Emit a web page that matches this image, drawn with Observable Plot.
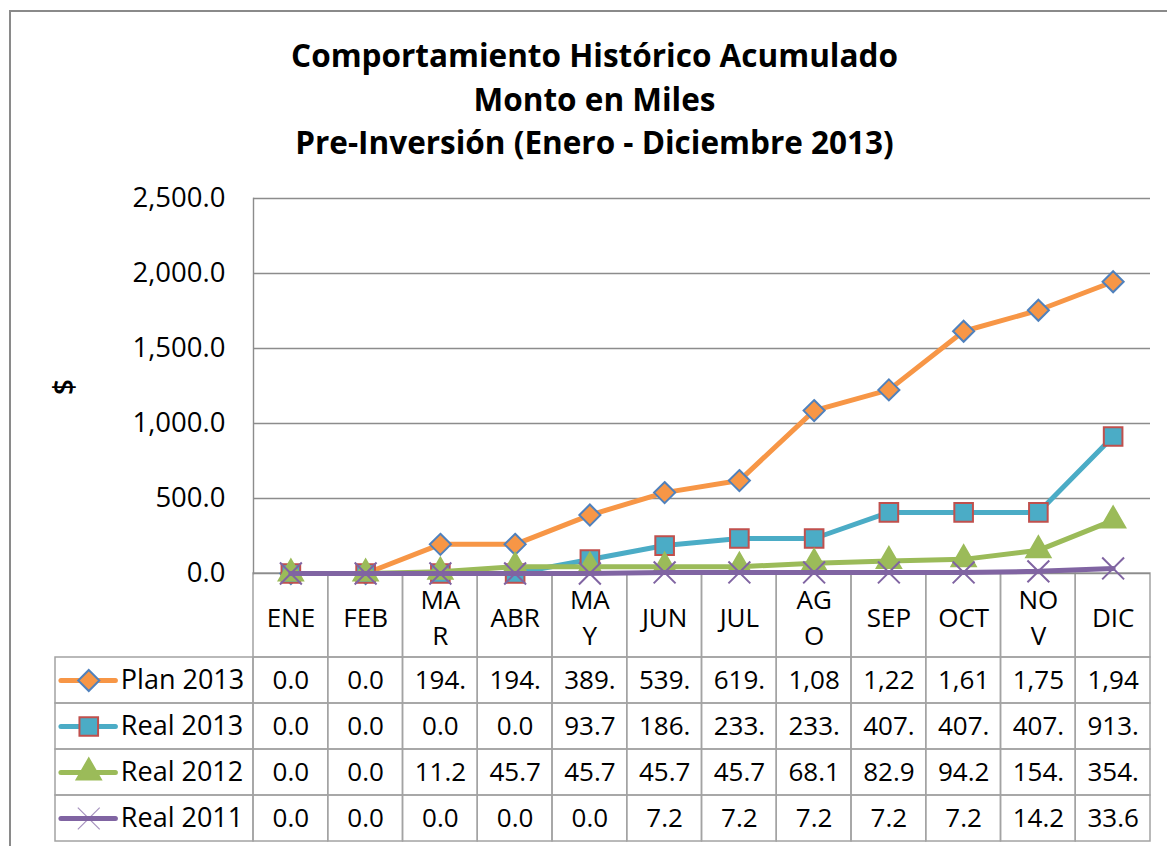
<!DOCTYPE html>
<html>
<head>
<meta charset="utf-8">
<script src="https://cdn.jsdelivr.net/npm/d3@7"></script>
<script src="https://cdn.jsdelivr.net/npm/@observablehq/plot@0.6"></script>
<style>
  html, body { margin: 0; padding: 0; background: #fff; overflow: hidden; }
  #root { position: relative; width: 1167px; height: 846px; overflow: hidden; font-family: "Open Sans", sans-serif; }
  #frame { position: absolute; left: 9px; top: 10px; width: 1400px; height: 1000px; border-left: 2px solid #8a8a8a; border-top: 2px solid #8a8a8a; }
  #title { position: absolute; left: 0; top: 33px; width: 1189px; text-align: center; font-weight: 700; font-size: 31.5px; line-height: 43.5px; color: #000; }
  .layer { position: absolute; }
</style>
</head>
<body>
<div id="root">
  <div id="frame"></div>
  <div id="title">Comportamiento Histórico Acumulado<br>Monto en Miles<br>Pre-Inversión (Enero - Diciembre 2013)</div>
  <div id="cats" class="layer" style="left:0;top:573px"></div>
  <div id="legend" class="layer" style="left:55px;top:657px"></div>
  <div id="table" class="layer" style="left:0;top:657px"></div>
  <div id="chart" class="layer" style="left:0;top:0"></div>
</div>
<script>
// ---- data ----
const months = ["ENE","FEB","MAR","ABR","MAY","JUN","JUL","AGO","SEP","OCT","NOV","DIC"];
const monthLabels = ["ENE","FEB","MA\nR","ABR","MA\nY","JUN","JUL","AG\nO","SEP","OCT","NO\nV","DIC"];
const seriesNames = ["Plan 2013","Real 2013","Real 2012","Real 2011"];
const plan2013 = [0,0,194.3,194.3,389.5,539.2,619.4,1086.0,1224.0,1615.0,1755.0,1945.0];
const real2013 = [0,0,0,0,93.7,186.2,233.4,233.4,407.3,407.3,407.3,913.5];
const real2012 = [0,0,11.2,45.7,45.7,45.7,45.7,68.1,82.9,94.2,154.3,354.1];
const real2011 = [0,0,0,0,0,7.2,7.2,7.2,7.2,7.2,14.2,33.6];
const yTicks = [0,500,1000,1500,2000,2500];
const yLabel = "$";

// ---- styles ----
const seriesStyle = [
  {name: "Plan 2013", values: plan2013, line: "#F79646", symbol: "diamond2", fill: "#F79646", stroke: "#4F81BD", r: 9.5},
  {name: "Real 2013", values: real2013, line: "#4BACC6", symbol: "square", fill: "#4BACC6", stroke: "#C0504D", r: 10.5},
  {name: "Real 2012", values: real2012, line: "#9BBB59", symbol: "triangle", fill: "#9BBB59", stroke: "#9BBB59", r: 9},
  {name: "Real 2011", values: real2011, line: "#8064A2", symbol: "times", fill: "none", stroke: "#8064A2", r: 10}
];
const W = 1167, ML = 253, MR = 17;
const FONT = "Open Sans";
const FS = 26;
const gridColor = "#8c8c8c";
const cellColor = "#a3a3a3";
const baseStyle = {background: "transparent", overflow: "visible", fontFamily: FONT, fontSize: FS + "px", color: "#000"};
const xBand = {type: "band", domain: months, padding: 0, round: false, axis: null};
const truncLabel = v => d3.format(",.1f")(v).slice(0, 4);

// ---- chart ----
const rows = seriesStyle.map(s => s.values.map((v, i) => ({month: months[i], value: v})));
const marks = [
  Plot.ruleY(yTicks, {stroke: gridColor, strokeWidth: 1.4}),
  Plot.frame({anchor: "left", stroke: gridColor, strokeWidth: 1.4}),
  Plot.axisY({ticks: yTicks, tickFormat: ",.1f", tickSize: 0, tickPadding: 28, fontSize: 27.5, label: null}),
  Plot.text([yLabel], {frameAnchor: "left", text: d => d, rotate: -90, dx: -188, dy: 9, fontSize: 28, fontWeight: 600, fill: "#000"})
];
seriesStyle.forEach((s, k) => {
  marks.push(Plot.line(rows[k], {x: "month", y: "value", stroke: s.line, strokeWidth: 5, strokeLinejoin: "round", strokeLinecap: "round"}));
  marks.push(Plot.dot(rows[k], {x: "month", y: "value", symbol: s.symbol, r: s.r, fill: s.fill, stroke: s.stroke, strokeWidth: 2}));
});
const chart = Plot.plot({
  width: W, height: 573, marginLeft: ML, marginRight: MR, marginTop: 198, marginBottom: 0,
  style: baseStyle,
  x: {type: "point", domain: months, padding: 0.5, round: false, axis: null},
  y: {domain: [0, 2500], axis: null},
  marks
});
document.getElementById("chart").appendChild(chart);

// ---- category row ----
const cats = Plot.plot({
  width: W, height: 84, marginLeft: ML, marginRight: MR, marginTop: 0, marginBottom: 0,
  style: baseStyle,
  x: xBand,
  y: {type: "band", domain: ["cat"], padding: 0, axis: null},
  marks: [
    Plot.cell(months, {x: d => d, y: () => "cat", fill: "none", stroke: cellColor, strokeWidth: 1.5}),
    Plot.text(months, {x: d => d, y: () => "cat", text: (d, i) => monthLabels[i], fontSize: FS, lineHeight: 1.38, fill: "#000"})
  ]
});
document.getElementById("cats").appendChild(cats);

// ---- data table ----
const tableData = seriesStyle.flatMap(s => s.values.map((v, i) => ({series: s.name, month: months[i], value: v})));
const table = Plot.plot({
  width: W, height: 184, marginLeft: ML, marginRight: MR, marginTop: 0, marginBottom: 0,
  style: baseStyle,
  x: xBand,
  y: {type: "band", domain: seriesNames, padding: 0, round: false, axis: null},
  marks: [
    Plot.cell(tableData, {x: "month", y: "series", fill: "none", stroke: cellColor, strokeWidth: 1.5}),
    Plot.text(tableData, {x: "month", y: "series", text: d => truncLabel(d.value), fontSize: FS, fill: "#000"})
  ]
});
document.getElementById("table").appendChild(table);

// ---- legend column ----
const legendLayout = {lineStart: 0.03, lineEnd: 0.305, marker: 0.168, text: 0.33};
const legendMarks = [
  Plot.cell(seriesNames, {y: d => d, fill: "none", stroke: cellColor, strokeWidth: 1.5})
];
seriesStyle.forEach(s => {
  legendMarks.push(Plot.ruleY([s.name], {y: d => d, x1: legendLayout.lineStart, x2: legendLayout.lineEnd, stroke: s.line, strokeWidth: 5, strokeLinecap: "round"}));
  legendMarks.push(Plot.dot([s.name], {y: d => d, x: () => legendLayout.marker, symbol: s.symbol, r: s.r, fill: s.fill, stroke: s.stroke, strokeWidth: s.symbol === "times" ? 1.2 : 2, strokeOpacity: s.symbol === "times" ? 0.7 : 1}));
});
legendMarks.push(Plot.text(seriesNames, {y: d => d, x: () => legendLayout.text, text: d => d, textAnchor: "start", fontSize: 27, fill: "#000"}));
const legend = Plot.plot({
  width: 198, height: 184, marginLeft: 0, marginRight: 0, marginTop: 0, marginBottom: 0,
  style: baseStyle,
  x: {domain: [0, 1], axis: null},
  y: {type: "band", domain: seriesNames, padding: 0, round: false, axis: null},
  marks: legendMarks
});
document.getElementById("legend").appendChild(legend);
</script>
</body>
</html>
